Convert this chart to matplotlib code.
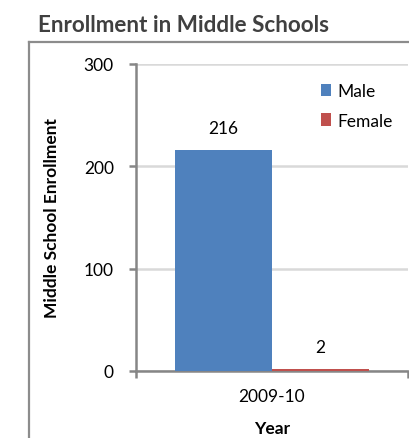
import matplotlib
matplotlib.use("Agg")
import matplotlib.pyplot as plt
from matplotlib.lines import Line2D
from matplotlib.patches import Patch

plt.rcParams['font.family'] = ['Lato', 'DejaVu Sans']

title = "Enrollment in Middle Schools"
categories = ["2009-10"]
series_names = ["Male", "Female"]
male = [216]
female = [2]
y_ticks = [0, 100, 200, 300]
x_label = "Year"
y_label = "Middle School Enrollment"

colors = ["#4f81bd", "#c0504d"]
axis_gray = "#868686"
grid_gray = "#d9d9d9"

fig = plt.figure(figsize=(4.10, 4.39), dpi=100)
W, H = 410, 439
ax = fig.add_axes([136 / W, 1 - 372 / H, (408 - 136) / W, (372 - 65) / H])

# outer border (chart area frame)
fig.add_artist(Line2D([29 / W, 29 / W], [0, 1 - 43 / H], transform=fig.transFigure,
                      color="#8c8c8c", lw=1.6))
fig.add_artist(Line2D([29 / W, 1], [1 - 43 / H, 1 - 43 / H], transform=fig.transFigure,
                      color="#8c8c8c", lw=1.6))

fig.text(38 / W, 1 - 25 / H, title, fontsize=16.2, fontweight='bold', color="#404040",
         ha='left', va='center')

bw = 0.357
xs = list(range(len(categories)))
for i, (name, vals, c) in enumerate(zip(series_names, [male, female], colors)):
    off = (i - 0.5) * bw
    bars = ax.bar([x + off for x in xs], vals, width=bw, color=c, label=name, zorder=3)
    for b, v in zip(bars, vals):
        ax.annotate(str(v), (b.get_x() + b.get_width() / 2, v), xytext=(0, 10),
                    textcoords='offset points', ha='center', va='bottom', fontsize=12.5)

ax.set_xlim(-0.5, len(categories) - 0.5)
ax.set_ylim(0, 300)
ax.set_yticks(y_ticks)
ax.set_yticklabels([str(t) for t in y_ticks], fontsize=12.5)
ax.yaxis.grid(True, color=grid_gray, lw=1.8, zorder=0)
ax.set_axisbelow(True)

# x ticks at category boundaries, labels at centers
ax.set_xticks([x - 0.5 for x in xs] + [len(categories) - 0.5])
ax.set_xticklabels([])
ax.set_xticks(xs, minor=True)
ax.set_xticklabels(categories, minor=True, fontsize=12.5)
ax.tick_params(axis='x', which='minor', length=0, pad=12)
ax.tick_params(axis='x', which='major', length=5, width=1.8, color=axis_gray, direction='out')
ax.tick_params(axis='y', length=5, width=1.8, color=axis_gray, direction='out', pad=11)

for s in ['top', 'right']:
    ax.spines[s].set_visible(False)
for s in ['left', 'bottom']:
    ax.spines[s].set_color(axis_gray)
    ax.spines[s].set_linewidth(1.8)

ax.set_xlabel(x_label, fontsize=12.5, fontweight='bold', labelpad=12)
ax.set_ylabel(y_label, fontsize=12.5, fontweight='bold', labelpad=17)

handles = [Patch(facecolor=c, label=n) for n, c in zip(series_names, colors)]
ax.legend(handles=handles, loc='upper left',
          bbox_to_anchor=((321 - 136) / (408 - 136), 1 - (84 - 65) / (372 - 65)),
          frameon=False, fontsize=12.5, handlelength=0.6, handleheight=0.75, handletextpad=0.35,
          labelspacing=0.8, borderaxespad=0, borderpad=0)

fig.savefig("out.png", dpi=100)
